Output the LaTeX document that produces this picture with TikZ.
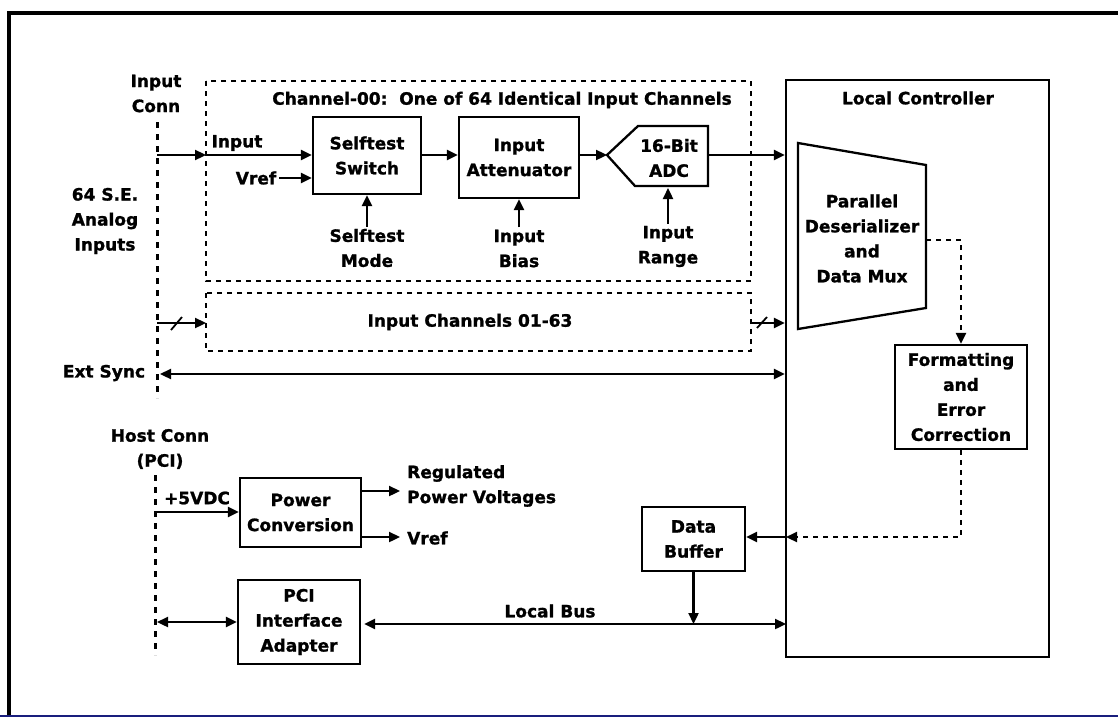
\documentclass[tikz,border=0pt]{standalone}
\usepackage{fontspec}
\setmainfont{DejaVu Sans}[BoldFeatures={FakeBold=1.2}]
\usetikzlibrary{arrows.meta}
\begin{document}
\begin{tikzpicture}[x=1pt,y=-1pt,
 lbl/.style={font=\bfseries\fontsize{17}{25}\selectfont, align=center, inner sep=0pt},
 box/.style={draw, line width=2.3pt, lbl},
 tip/.tip={Triangle[length=11pt,width=10pt]},
 arr/.style={line width=2.3pt, -tip},
 darr/.style={line width=2.3pt, tip-tip},
 dbox/.style={draw, line width=2.3pt, dash pattern=on 5pt off 5pt},
 dline/.style={line width=2.3pt, dash pattern=on 5pt off 5pt},
 conn/.style={line width=3pt, dash pattern=on 6pt off 6pt},
 slash/.style={line width=1.8pt},
]
\useasboundingbox (0,0) rectangle (1118,717);
% frame
\draw[line width=4pt] (9,717) -- (9,13) -- (1118,13);
\draw[line width=1.5pt, color={rgb,255:red,25;green,30;blue,125}] (0,716) -- (1118,716);

% connectors (dashed verticals)
\coordinate (ic1) at (157,122);
\coordinate (ic2) at (157,398);
\draw[conn] (ic1) -- (ic2);
\coordinate (hc1) at (155,475);
\coordinate (hc2) at (155,655);
\draw[conn] (hc1) -- (hc2);
\node[lbl] (iconn) at (156,93.5) {Input\\Conn};
\node[lbl] (hconn) at (160,449) {Host Conn\\(PCI)};
\node[lbl] (ana) at (105,221) {64 S.E.\\Analog\\Inputs};
\node[lbl] (extl) at (104,373) {Ext Sync};

% Channel-00 box
\draw[dbox] (206,81) rectangle (751,281);
\node[lbl] (chtitle) at (502,100) {Channel-00:\ \ One of 64 Identical Input Channels};
% Input channels 01-63
\draw[dbox] (206,293) rectangle (751,351);
\node[lbl] (ich) at (470,322) {Input Channels 01-63};

% blocks
\node[box, minimum width=108, minimum height=77] (sw) at (367,155.5) {Selftest\\Switch};
\node[box, minimum width=120, minimum height=81] (att) at (519,157.5) {Input\\Attenuator};
\coordinate (adcin) at (607,155);
\coordinate (adcout) at (708,155);
\draw[line width=2.3pt] (adcin) -- (638,126) -- (708,126) -- (708,186) -- (635,186) -- cycle;
\node[lbl] (adc) at (669,158) {16-Bit\\ADC};

% local controller
\node[draw, line width=2.3pt, minimum width=263, minimum height=577, inner sep=0pt] (lc) at (917.5,368.5) {};
\node[lbl] (lct) at (918,98) {Local Controller};
\draw[line width=2.3pt] (798,143) -- (926,165) -- (926,308) -- (798,329) -- cycle;
\node[lbl] (pd) at (862,238.5) {Parallel\\Deserializer\\and\\Data Mux};
\coordinate (pdr) at (926,240);
\node[box, minimum width=132, minimum height=104] (fmt) at (961,397) {Formatting\\and\\Error\\Correction};
\node[box, minimum width=103, minimum height=64] (db) at (693.5,539) {Data\\Buffer};

% power / pci
\node[box, minimum width=121, minimum height=69] (pc) at (300.5,512.5) {Power\\Conversion};
\node[box, minimum width=122, minimum height=84] (pci) at (299,622) {PCI\\Interface\\Adapter};

% labels
\node[lbl] (inl) at (237,143) {Input};
\node[lbl] (vrefl) at (256,178) {Vref};
\node[lbl] (stm) at (367,248) {Selftest\\Mode};
\node[lbl] (ibias) at (519,248.5) {Input\\Bias};
\node[lbl] (irange) at (668,246.5) {Input\\Range};
\node[lbl] (p5) at (197,498) {+5VDC};
\node[lbl, anchor=west, align=left] (reg) at (407,486) {Regulated\\Power Voltages};
\node[lbl, anchor=west, align=left] (vref2) at (407,538) {Vref};
\node[lbl] (lbus) at (550,611) {Local Bus};

% arrows in channel
\coordinate (ini) at (157,155);
\coordinate (inb) at (206,155);
\draw[arr] (ini) -- (inb);
\draw[arr] (inb) -- (sw.west |- inb);
\draw[arr] (vrefl.east |- 0,178) ++(3,0) coordinate (vr0) -- (sw.west |- vr0);
\draw[arr] (sw.east |- inb) -- (att.west |- inb);
\draw[arr] (att.east |- adcin) -- (adcin);
\draw[arr] (adcout) -- (lc.west |- adcout);
\draw[arr] (stm.north) ++(0,-2) -- (sw.south);
\draw[arr] (ibias.north) ++(0,-2) -- (att.south);
\draw[arr] (irange.north) ++(0,-2) -- (668,188);

% channels 01-63
\coordinate (c1) at (157,323);
\coordinate (c2) at (206,323);
\coordinate (c3) at (751,323);
\draw[arr] (c1) -- (c2);
\draw[slash] (171,330) -- (182,317);
\draw[arr] (c3) -- (lc.west |- c3);
\draw[slash] (757,328) -- (767,317);

% ext sync
\coordinate (es) at (160,374);
\draw[darr] (es) -- (lc.west |- es);

% controller internals
\draw[dline, -tip] (pdr) -- (fmt.north |- pdr) -- (fmt.north);
\coordinate (fb) at (786,537);
\draw[dline, -tip] (fmt.south) -- (fmt.south |- fb) -- (fb);
\draw[arr] (fb) -- (db.east |- fb);
\coordinate (busr) at (786,624);
\draw[arr] (db.south) -- (db.south |- busr);
\draw[darr] (pci.east |- busr) ++(3,0) -- (busr);

% power
\coordinate (p5i) at (157,512);
\draw[arr] (p5i) -- (pc.west |- p5i);
\draw[arr] (pc.east |- 0,491) -- (400,491);
\draw[arr] (pc.east |- 0,537) -- (400,537);
\coordinate (pcii) at (157,622);
\draw[darr] (pcii) -- (pci.west |- pcii);
\end{tikzpicture}
\end{document}
